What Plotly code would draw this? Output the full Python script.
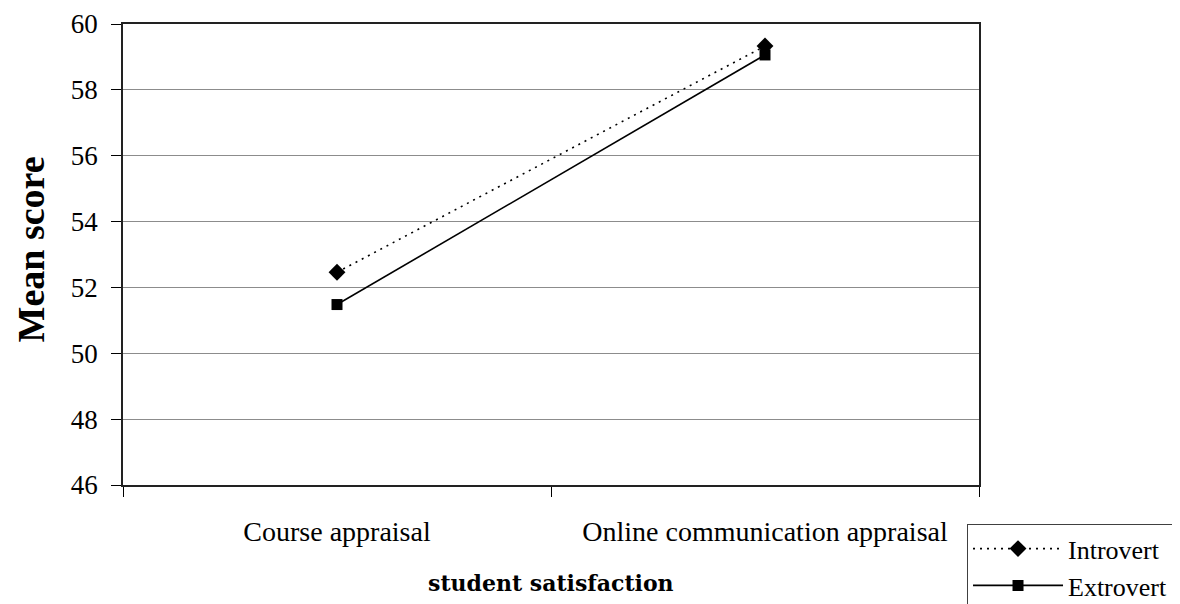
import plotly.graph_objects as go

categories = ["Course appraisal", "Online communication appraisal"]
introvert = [52.46, 59.33]
extrovert = [51.48, 59.06]
y_ticks = [46, 48, 50, 52, 54, 56, 58, 60]

FONT = "Liberation Serif"

fig = go.Figure()
fig.add_trace(go.Scatter(
    x=categories, y=introvert, name="Introvert", mode="lines+markers",
    line=dict(color="black", width=1.6, dash="2px,5px"),
    marker=dict(symbol="diamond", size=13, color="black"),
))
fig.add_trace(go.Scatter(
    x=categories, y=extrovert, name="Extrovert", mode="lines+markers",
    line=dict(color="black", width=1.6),
    marker=dict(symbol="square", size=11, color="black"),
))

fig.update_layout(
    width=1172, height=596,
    margin=dict(l=115, r=201, t=16, b=119, autoexpand=False),
    plot_bgcolor="white", paper_bgcolor="white",
    font=dict(family=FONT, size=20, color="black"),
    showlegend=True,
    legend=dict(
        x=0.986, y=-0.085, xanchor="left", yanchor="top",
        bordercolor="#404040", borderwidth=1, bgcolor="white",
        font=dict(family=FONT, size=26, color="black"),
        tracegroupgap=0, itemwidth=90,
    ),
    xaxis=dict(
        type="category", range=[-0.5, 1.5], tickson="boundaries",
        ticks="outside", ticklen=10, tickcolor="black", tickwidth=1,
        showline=True, linecolor="#222222", linewidth=2, mirror=True,
        showgrid=False, ticklabelstandoff=20,
        tickfont=dict(family=FONT, size=28),
    ),
    yaxis=dict(
        range=[46, 60], tickvals=y_ticks,
        ticks="outside", ticklen=10, tickcolor="black", tickwidth=1,
        showline=True, linecolor="#222222", linewidth=1.5, mirror=True,
        showgrid=True, gridcolor="#8c8c8c", gridwidth=1,
        tickfont=dict(family=FONT, size=27),
        ticklabelstandoff=8,
    ),
    annotations=[
        dict(text="<b>Mean score</b>", xref="paper", yref="paper",
             x=-0.108, y=0.51, xanchor="center", yanchor="middle",
             textangle=-90, showarrow=False,
             font=dict(family=FONT, size=38, color="black")),
        dict(text="<b>student satisfaction</b>", xref="paper", yref="paper",
             x=0.5, y=-0.2126, xanchor="center", yanchor="middle",
             showarrow=False,
             font=dict(family="DejaVu Serif", size=22, color="black")),
    ],
)

fig.write_html("out.html")
